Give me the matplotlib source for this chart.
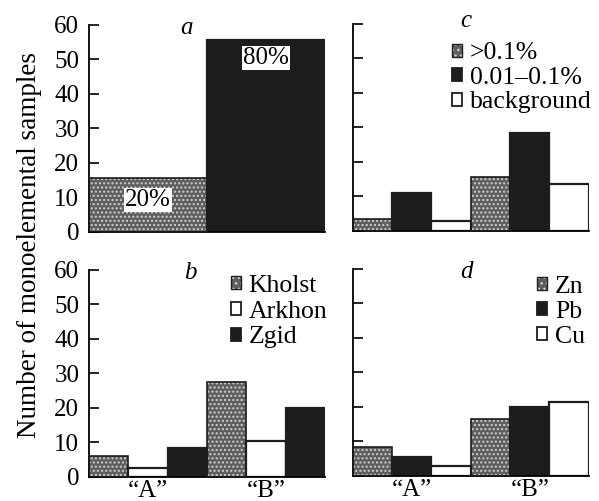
import matplotlib
matplotlib.use('Agg')

import matplotlib.pyplot as plt
import numpy             as np
from matplotlib.patches import Patch


# ----------------------------------------------------------------------------
# values
groups      = ['\u201cA\u201d', '\u201cB\u201d']

a_values    = [15.5, 55.5]
a_labels    = ['20%', '80%']

b_names     = ['Kholst', 'Arkhon', 'Zgid']
b_values    = [[6.0, 27.5], [2.5, 10.5], [8.5, 20.0]]

c_names     = ['>0.1%', '0.01\u20130.1%', 'background']
c_values    = [[3.5, 15.5], [11.0, 28.3], [3.0, 13.5]]

d_names     = ['Zn', 'Pb', 'Cu']
d_values    = [[8.5, 16.5], [5.5, 20.0], [3.0, 21.5]]

yticks      = [0, 10, 20, 30, 40, 50, 60]


# ----------------------------------------------------------------------------
#
plt.rcParams['font.family']    = ['Liberation Serif', 'DejaVu Serif']
plt.rcParams['font.size']      = 18
plt.rcParams['axes.linewidth'] = 1.3

GRAY  = '#5e5e5e'
DOT   = '#d0d0d0'
BLACK = '#1e1c1d'
WHITE = '#ffffff'

fig = plt.figure(figsize=(5.99, 5.01), dpi=100)

W, H = 0.394, 0.414
ax_a = fig.add_axes([0.1486, 0.537, W, H])
ax_c = fig.add_axes([0.589,  0.539, W, H])
ax_b = fig.add_axes([0.1486, 0.048, W, H])
ax_d = fig.add_axes([0.589,  0.050, W, H])


def style(ax, labels=True):
    ax.set_xlim(-0.5, 5.5)
    ax.set_ylim(0, 60)
    ax.set_yticks(yticks)
    ax.spines['top'].set_visible(False)
    ax.spines['right'].set_visible(False)
    ax.tick_params(axis='y', direction='in', length=7, width=1.2, pad=7,
                   labelsize=18, labelleft=labels)
    ax.tick_params(axis='x', length=0, pad=2, labelsize=18)
    ax.set_xticks([])


def draw_bar(ax, x, h, kind, width=1.0):
    if kind == 'gray':
        ax.bar(x, h, width=width, color=GRAY, edgecolor=DOT, hatch='....',
               linewidth=0, zorder=2)
        ax.bar(x, h, width=width, fill=False, edgecolor=BLACK,
               linewidth=1.2, zorder=3)
    else:
        col = BLACK if kind == 'black' else WHITE
        ax.bar(x, h, width=width, color=col, edgecolor=BLACK,
               linewidth=1.6, zorder=2)


def handle(kind):
    if kind == 'gray':
        return (Patch(facecolor=GRAY, edgecolor=DOT, hatch='...', linewidth=0),
                Patch(fill=False, edgecolor=BLACK, linewidth=1.0))
    col = BLACK if kind == 'black' else WHITE
    return Patch(facecolor=col, edgecolor=BLACK, linewidth=1.3)


def grouped(ax, values, kinds, names, legend_xy, spacing):
    for k, (vals, kind) in enumerate(zip(values, kinds)):
        for g, v in enumerate(vals):
            draw_bar(ax, g * 3 + k, v, kind)
    ax.legend([handle(k) for k in kinds], names, loc='upper left',
              bbox_to_anchor=legend_xy, frameon=False, borderpad=0,
              borderaxespad=0, handlelength=0.4, handleheight=0.4,
              handletextpad=0.3, labelspacing=spacing, fontsize=18.5)


# ----------------------------------------------------------------------------
# a
style(ax_a)
draw_bar(ax_a, 1, a_values[0], 'gray', width=3)
draw_bar(ax_a, 4, a_values[1], 'black', width=3)
ax_a.text(1, 9.2, a_labels[0], ha='center', va='center', fontsize=18,
          bbox=dict(facecolor='white', edgecolor='none', pad=0.5), zorder=5)
ax_a.text(4, 50.3, a_labels[1], ha='center', va='center', fontsize=18,
          bbox=dict(facecolor='white', edgecolor='none', pad=0.5), zorder=5)
ax_a.text(0.415, 0.985, 'a', transform=ax_a.transAxes, style='italic',
          ha='center', va='center', fontsize=18)

# c
style(ax_c, labels=False)
grouped(ax_c, c_values, ['gray', 'black', 'white'], c_names,
        (0.42, 0.91), 0.1)
ax_c.text(0.48, 1.01, 'c', transform=ax_c.transAxes, style='italic',
          ha='center', va='center', fontsize=18)

# b
style(ax_b)
grouped(ax_b, b_values, ['gray', 'white', 'black'], b_names,
        (0.60, 0.975), 0.15)
ax_b.text(0.43, 0.985, 'b', transform=ax_b.transAxes, style='italic',
          ha='center', va='center', fontsize=18)

# d
style(ax_d, labels=False)
grouped(ax_d, d_values, ['gray', 'black', 'white'], d_names,
        (0.78, 0.965), 0.12)
ax_d.text(0.48, 0.985, 'd', transform=ax_d.transAxes, style='italic',
          ha='center', va='center', fontsize=18)

for ax in (ax_b, ax_d):
    ax.set_xticks([1, 4])
    ax.set_xticklabels(groups)

fig.text(0.05, 0.51, 'Number of monoelemental samples', rotation=90,
         ha='center', va='center', fontsize=19.5)

plt.savefig('out.png', dpi=100)
